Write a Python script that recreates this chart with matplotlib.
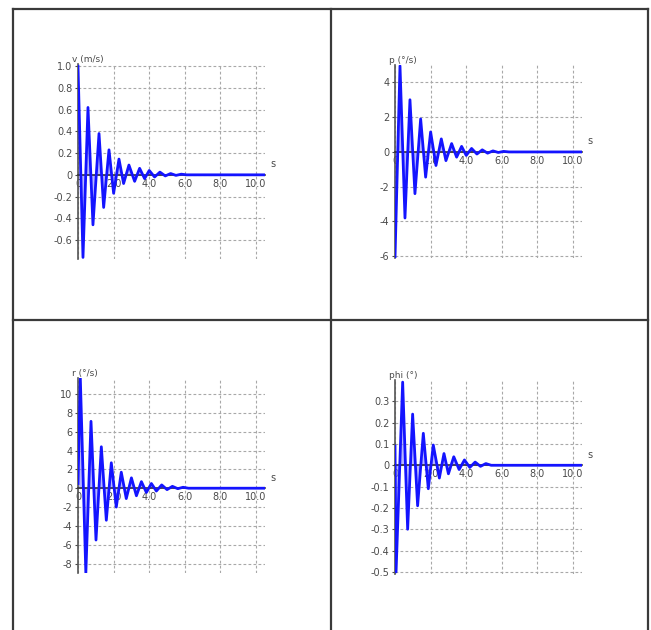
import matplotlib
matplotlib.use("Agg")
import matplotlib.pyplot as plt
from matplotlib.lines import Line2D

# peak / trough samples of each response (time in s)
t_v = [0, 0.28, 0.56, 0.84, 1.18, 1.44, 1.74, 2.0, 2.3, 2.56, 2.86, 3.18, 3.46, 3.74, 4.0,
       4.3, 4.6, 4.9, 5.2, 5.5, 5.8, 6.1, 10.5]
v = [1.0, -0.76, 0.62, -0.46, 0.38, -0.3, 0.23, -0.17, 0.145, -0.08, 0.09, -0.06, 0.06, -0.035, 0.04,
     -0.02, 0.025, -0.01, 0.012, -0.005, 0.006, 0.0, 0.0]

t_p = [0, 0.28, 0.56, 0.84, 1.12, 1.44, 1.72, 2.0, 2.3, 2.6, 2.86, 3.18, 3.46, 3.74, 4.0,
       4.3, 4.6, 4.9, 5.2, 5.5, 5.8, 6.1, 6.4, 10.5]
p = [-6.1, 4.95, -3.8, 3.0, -2.4, 1.9, -1.45, 1.15, -0.78, 0.75, -0.5, 0.48, -0.3, 0.32, -0.2,
     0.2, -0.12, 0.12, -0.07, 0.06, -0.03, 0.03, 0.0, 0.0]

t_r = [0, 0.13, 0.44, 0.73, 1.01, 1.31, 1.59, 1.87, 2.15, 2.43, 2.71, 3.0, 3.28, 3.56, 3.84,
       4.12, 4.4, 4.7, 5.0, 5.3, 5.6, 5.9, 6.2, 10.5]
r = [0.5, 11.7, -9.0, 7.1, -5.5, 4.4, -3.4, 2.7, -2.0, 1.7, -1.1, 1.1, -0.8, 0.7, -0.45,
     0.5, -0.3, 0.35, -0.15, 0.2, -0.05, 0.1, 0.0, 0.0]

t_phi = [0, 0.06, 0.43, 0.71, 0.99, 1.27, 1.59, 1.87, 2.15, 2.49, 2.75, 3.0, 3.3, 3.6, 3.9,
         4.2, 4.5, 4.8, 5.1, 5.4, 10.5]
phi = [0.09, -0.5, 0.39, -0.3, 0.24, -0.19, 0.15, -0.11, 0.095, -0.06, 0.055, -0.04, 0.04, -0.02, 0.025,
       -0.01, 0.015, -0.005, 0.008, 0.0, 0.0]

x_ticks = [0, 2, 4, 6, 8, 10]
x_tick_labels = ["0", "2.0", "4.0", "6.0", "8.0", "10.0"]

panels = [
    dict(t=t_v, y=v, label="v (m/s)", ylim=(-0.77, 1.02),
         yticks=[-0.6, -0.4, -0.2, 0, 0.2, 0.4, 0.6, 0.8, 1.0],
         yticklabels=["-0.6", "-0.4", "-0.2", "0", "0.2", "0.4", "0.6", "0.8", "1.0"],
         box=(78, 64, 265, 258.5)),
    dict(t=t_p, y=p, label="p (°/s)", ylim=(-6.1, 5.0),
         yticks=[-6, -4, -2, 0, 2, 4],
         yticklabels=["-6", "-4", "-2", "0", "2", "4"],
         box=(395, 65, 582, 258)),
    dict(t=t_r, y=r, label="r (°/s)", ylim=(-9.0, 11.7),
         yticks=[-8, -6, -4, -2, 0, 2, 4, 6, 8, 10],
         yticklabels=["-8", "-6", "-4", "-2", "0", "2", "4", "6", "8", "10"],
         box=(78, 378, 265, 573)),
    dict(t=t_phi, y=phi, label="phi (°)", ylim=(-0.51, 0.40),
         yticks=[-0.5, -0.4, -0.3, -0.2, -0.1, 0, 0.1, 0.2, 0.3],
         yticklabels=["-0.5", "-0.4", "-0.3", "-0.2", "-0.1", "0", "0.1", "0.2", "0.3"],
         box=(395, 380, 582, 574)),
]

W, H = 651, 630
fig = plt.figure(figsize=(W / 100, H / 100), dpi=100)
fig.patch.set_facecolor("white")

text_color = "#4a4a4a"
axis_color = "#333333"

for pan in panels:
    x0, y0, x1, y1 = pan["box"]
    ax = fig.add_axes([x0 / W, 1 - y1 / H, (x1 - x0) / W, (y1 - y0) / H])
    ax.set_xlim(0, 10.5)
    ax.set_ylim(*pan["ylim"])

    # light band under the swings, then the trace itself
    ax.fill_between(pan["t"], pan["y"], 0, color="#7a7aff", alpha=0.55, lw=0, zorder=2)
    ax.plot(pan["t"], pan["y"], color="#1414ff", lw=2.0, zorder=3)

    ax.set_xticks(x_ticks)
    ax.set_xticklabels(x_tick_labels)
    ax.set_yticks(pan["yticks"])
    ax.set_yticklabels(pan["yticklabels"])
    ax.grid(True, color="#a8a8a8", linestyle=(0, (2.5, 2)), lw=0.8)

    for side in ["top", "right"]:
        ax.spines[side].set_visible(False)
    ax.spines["bottom"].set_position(("data", 0))
    ax.spines["left"].set_color("#555555")
    ax.spines["bottom"].set_color(axis_color)
    ax.spines["left"].set_linewidth(1.2)
    ax.spines["bottom"].set_linewidth(1.2)
    ax.tick_params(axis="both", labelsize=7, colors=text_color, length=2, pad=2)
    ax.tick_params(axis="x", length=0, pad=3)

    ax.annotate(pan["label"], xy=(0, 1), xycoords="axes fraction",
                xytext=(-4, 0), textcoords="offset points",
                ha="left", va="bottom", fontsize=6.5, color=text_color)
    ax.annotate("s", xy=(1, 0), xycoords=("axes fraction", "data"),
                xytext=(4, 4), textcoords="offset points",
                ha="left", va="bottom", fontsize=7, color=text_color)

# panel frame
frame = dict(color="#3a3a3a", lw=1.6, transform=fig.transFigure)
for xp in [13, 331, 648]:
    fig.add_artist(Line2D([xp / W, xp / W], [0, 1 - 9 / H], **frame))
fig.add_artist(Line2D([13 / W, 648 / W], [1 - 9 / H, 1 - 9 / H], **frame))
fig.add_artist(Line2D([13 / W, 648 / W], [1 - 320 / H, 1 - 320 / H], **frame))

fig.savefig("out.png", dpi=100)
